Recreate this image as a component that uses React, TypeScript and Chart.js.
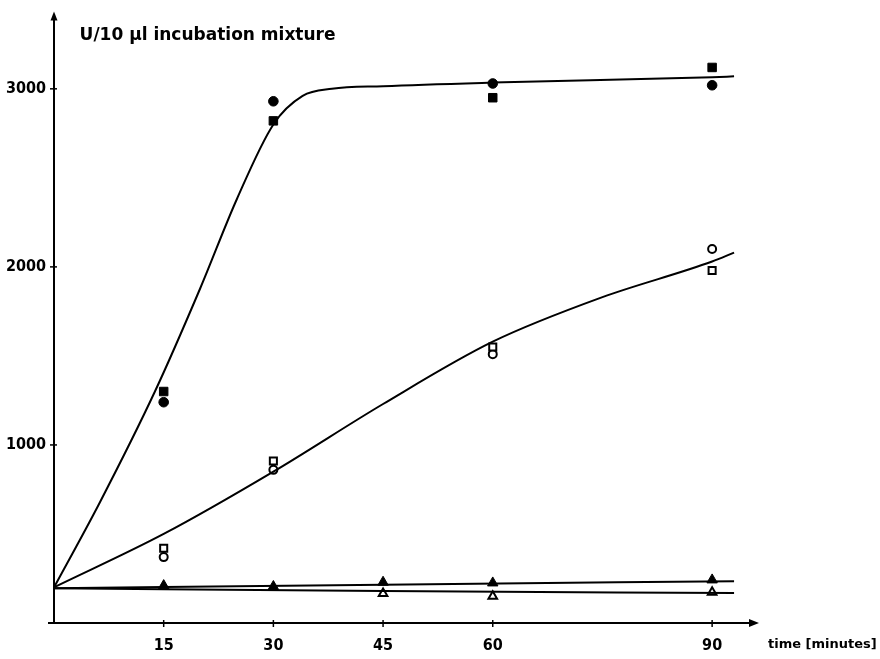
import React, { useEffect, useRef } from "react";
import { Chart, registerables } from "chart.js";

Chart.register(...registerables);

// Measured time points (minutes)
const timePoints = [15, 30, 60, 90];
const filledSquare = [1300, 2820, 2950, 3120];
const filledCircle = [1240, 2930, 3030, 3020];
const openSquare = [420, 910, 1550, 1980];
const openCircle = [370, 860, 1510, 2100];

const triangleTimes = [15, 30, 45, 60, 90];
const filledTriangle = [210, 205, 229, 225, 242];
const openTriangleTimes = [45, 60, 90];
const openTriangle = [165, 150, 172];

// Fitted curves
const curve1X = [0, 6.3, 13.8, 20, 25, 30, 34, 38, 45, 60, 90, 93];
const curve1Y = [200, 680, 1300, 1880, 2380, 2800, 2960, 3000, 3015, 3035, 3065, 3070];
const curve2X = [0, 15, 30, 45, 60, 75, 90, 93];
const curve2Y = [200, 500, 850, 1230, 1580, 1830, 2030, 2080];
const curve3X = [0, 45, 93];
const curve3Y = [195, 215, 235];
const curve4X = [0, 45, 93];
const curve4Y = [195, 180, 168];

const xTicks = [15, 30, 45, 60, 90];
const yTicks = [1000, 2000, 3000];

const toXY = (xs: number[], ys: number[]) => xs.map((x, i) => ({ x, y: ys[i] }));

export default function App() {
  const ref = useRef<HTMLCanvasElement | null>(null);

  useEffect(() => {
    document.body.style.margin = "0";
    const canvas = ref.current!;
    const font = "'DejaVu Sans', sans-serif";
    const condFont = "'DejaVu Sans Condensed', 'DejaVu Sans', sans-serif";

    const axesPlugin = {
      id: "axesPlugin",
      afterDraw(chart: any) {
        const { ctx, chartArea, scales } = chart;
        const xs = scales.x;
        const ys = scales.y;
        const x0 = xs.getPixelForValue(0);
        const y0 = ys.getPixelForValue(0);
        ctx.save();
        ctx.strokeStyle = "#000";
        ctx.fillStyle = "#000";
        ctx.lineWidth = 2;
        // y axis
        ctx.beginPath();
        ctx.moveTo(x0, y0);
        ctx.lineTo(x0, chartArea.top - 2);
        ctx.stroke();
        ctx.beginPath();
        ctx.moveTo(x0, chartArea.top - 6);
        ctx.lineTo(x0 - 3.5, chartArea.top + 3);
        ctx.lineTo(x0 + 3.5, chartArea.top + 3);
        ctx.closePath();
        ctx.fill();
        // x axis
        ctx.beginPath();
        ctx.moveTo(x0 - 6, y0);
        ctx.lineTo(chartArea.right - 4, y0);
        ctx.stroke();
        ctx.beginPath();
        ctx.moveTo(chartArea.right + 3, y0);
        ctx.lineTo(chartArea.right - 7, y0 - 4);
        ctx.lineTo(chartArea.right - 7, y0 + 4);
        ctx.closePath();
        ctx.fill();
        // ticks
        ctx.lineWidth = 1.5;
        xTicks.forEach((t) => {
          const px = xs.getPixelForValue(t);
          ctx.beginPath();
          ctx.moveTo(px, y0 - 3);
          ctx.lineTo(px, y0 + 4);
          ctx.stroke();
        });
        yTicks.forEach((t) => {
          const py = ys.getPixelForValue(t);
          ctx.beginPath();
          ctx.moveTo(x0 - 4, py);
          ctx.lineTo(x0 + 3, py);
          ctx.stroke();
        });
        // texts
        ctx.font = `bold 17px ${font}`;
        ctx.textBaseline = "middle";
        ctx.textAlign = "left";
        ctx.fillText("U/10 µl incubation mixture", xs.getPixelForValue(3.5), ys.getPixelForValue(3300));
        ctx.font = `bold 13px ${font}`;
        ctx.fillText("time [minutes]", chartArea.right + 12, y0 + 22);
        ctx.restore();
      },
    };

    const lineDs = (xs: number[], ys: number[]) => ({
      type: "line" as const,
      data: toXY(xs, ys),
      borderColor: "#000",
      borderWidth: 2,
      pointRadius: 0,
      fill: false,
      cubicInterpolationMode: "monotone" as const,
      showLine: true,
    });

    const pointDs = (xs: number[], ys: number[], style: string, filled: boolean, r: number) => ({
      type: "scatter" as const,
      data: toXY(xs, ys),
      pointStyle: style,
      pointRadius: r,
      pointBackgroundColor: filled ? "#000" : "#fff",
      pointBorderColor: "#000",
      pointBorderWidth: filled ? 1 : 2,
      showLine: false,
    });

    const chart = new Chart(canvas, {
      type: "scatter",
      data: {
        datasets: [
          lineDs(curve1X, curve1Y),
          lineDs(curve2X, curve2Y),
          lineDs(curve3X, curve3Y),
          lineDs(curve4X, curve4Y),
          pointDs(timePoints, filledSquare, "rect", true, 6),
          pointDs(timePoints, filledCircle, "circle", true, 4.8),
          pointDs(timePoints, openSquare, "rect", false, 5),
          pointDs(timePoints, openCircle, "circle", false, 4),
          pointDs(triangleTimes, filledTriangle, "triangle", true, 6),
          pointDs(openTriangleTimes, openTriangle, "triangle", false, 5),
        ] as any,
      },
      options: {
        animation: false,
        responsive: false,
        maintainAspectRatio: false,
        layout: { padding: { left: 0, top: 14, right: 124, bottom: 0 } },
        plugins: { legend: { display: false }, tooltip: { enabled: false }, title: { display: false } },
        scales: {
          x: {
            type: "linear",
            min: 0,
            max: 96,
            grid: { display: false, drawTicks: false },
            border: { display: false },
            afterBuildTicks: (s: any) => {
              s.ticks = xTicks.map((v) => ({ value: v }));
            },
            afterFit: (s: any) => {
              s.height = 36;
            },
            ticks: {
              padding: 13,
              color: "#000",
              font: { family: condFont, size: 16, weight: "bold" },
              maxRotation: 0,
              autoSkip: false,
            },
          },
          y: {
            type: "linear",
            min: 0,
            max: 3400,
            grid: { display: false, drawTicks: false },
            border: { display: false },
            afterBuildTicks: (s: any) => {
              s.ticks = yTicks.map((v) => ({ value: v }));
            },
            afterFit: (s: any) => {
              s.width = 54;
            },
            ticks: {
              padding: 8,
              color: "#000",
              font: { family: condFont, size: 16, weight: "bold" },
              callback: (v: any) => String(v),
            },
          },
        },
      },
      plugins: [axesPlugin],
    });
    return () => chart.destroy();
  }, []);

  return (
    <div style={{ width: 880, height: 659, background: "#fff" }}>
      <canvas ref={ref} width={880} height={659} style={{ display: "block" }} />
    </div>
  );
}
